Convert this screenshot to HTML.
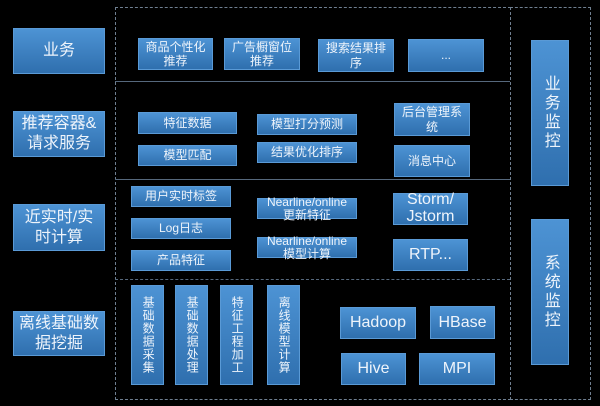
<!DOCTYPE html>
<html><head><meta charset="utf-8"><style>
body{margin:0;width:600px;height:406px;background:#000;position:relative;overflow:hidden;font-family:"Liberation Sans","Noto Sans CJK SC",sans-serif;}
.b{position:absolute;box-sizing:border-box;background:linear-gradient(#4d93d4,#2f6fae);border:1px solid #5a9ad6;color:#eef4fb;display:flex;align-items:center;justify-content:center;text-align:center;line-height:1.2;font-size:12px;}
.L{font-size:16px;line-height:1.25;}
.v{writing-mode:vertical-rl;text-orientation:upright;font-size:12px;letter-spacing:1px;line-height:1.1;}
.d{position:absolute;box-sizing:border-box;border:1px dashed #6f7f90;}
.h{position:absolute;height:0;border-top:1px solid #56687c;}
</style></head><body>
<div class="d" style="left:115px;top:7px;width:396px;height:393px"></div>
<div class="d" style="left:510px;top:7px;width:81px;height:393px"></div>
<div class="h" style="left:115px;top:81px;width:395px"></div>
<div class="h" style="left:115px;top:179px;width:395px"></div>
<div class="h" style="left:115px;top:279px;width:395px;border-top-style:dashed"></div>

<div class="b L" style="left:13px;top:28px;width:92px;height:46px">业务</div>
<div class="b L" style="left:13px;top:111px;width:92px;height:46px">推荐容器&amp;<br>请求服务</div>
<div class="b L" style="left:13px;top:204px;width:92px;height:47px">近实时/实<br>时计算</div>
<div class="b L" style="left:13px;top:311px;width:92px;height:45px">离线基础数<br>据挖掘</div>

<div class="b" style="left:138px;top:38px;width:75px;height:32px">商品个性化<br>推荐</div>
<div class="b" style="left:224px;top:38px;width:76px;height:32px">广告橱窗位<br>推荐</div>
<div class="b" style="left:318px;top:39px;width:76px;height:33px">搜索结果排<br>序</div>
<div class="b" style="left:408px;top:39px;width:76px;height:33px">...</div>

<div class="b" style="left:138px;top:112px;width:99px;height:22px">特征数据</div>
<div class="b" style="left:138px;top:145px;width:99px;height:21px">模型匹配</div>
<div class="b" style="left:257px;top:114px;width:100px;height:21px">模型打分预测</div>
<div class="b" style="left:257px;top:142px;width:100px;height:21px">结果优化排序</div>
<div class="b" style="left:394px;top:103px;width:76px;height:33px">后台管理系<br>统</div>
<div class="b" style="left:394px;top:145px;width:76px;height:32px">消息中心</div>

<div class="b" style="left:131px;top:186px;width:100px;height:21px">用户实时标签</div>
<div class="b" style="left:131px;top:218px;width:100px;height:21px">Log日志</div>
<div class="b" style="left:131px;top:250px;width:100px;height:21px">产品特征</div>
<div class="b" style="left:257px;top:198px;width:100px;height:21px;line-height:1.05">Nearline/online<br>更新特征</div>
<div class="b" style="left:257px;top:237px;width:100px;height:21px;line-height:1.05">Nearline/online<br>模型计算</div>
<div class="b" style="left:393px;top:193px;width:75px;height:32px;font-size:16px;line-height:1.05">Storm/<br>Jstorm</div>
<div class="b" style="left:393px;top:239px;width:75px;height:32px;font-size:16px">RTP...</div>

<div class="b v" style="left:131px;top:285px;width:33px;height:100px">基础数据采集</div>
<div class="b v" style="left:175px;top:285px;width:33px;height:100px">基础数据处理</div>
<div class="b v" style="left:220px;top:285px;width:33px;height:100px">特征工程加工</div>
<div class="b v" style="left:267px;top:285px;width:33px;height:100px">离线模型计算</div>
<div class="b" style="left:340px;top:307px;width:76px;height:32px;font-size:16px">Hadoop</div>
<div class="b" style="left:430px;top:306px;width:65px;height:33px;font-size:16px">HBase</div>
<div class="b" style="left:341px;top:353px;width:65px;height:32px;font-size:16px">Hive</div>
<div class="b" style="left:419px;top:353px;width:76px;height:32px;font-size:16px">MPI</div>

<div class="b v" style="left:531px;top:40px;width:38px;height:146px;font-size:16px;letter-spacing:3px">业务监控</div>
<div class="b v" style="left:531px;top:219px;width:38px;height:146px;font-size:16px;letter-spacing:3px">系统监控</div>
</body></html>
